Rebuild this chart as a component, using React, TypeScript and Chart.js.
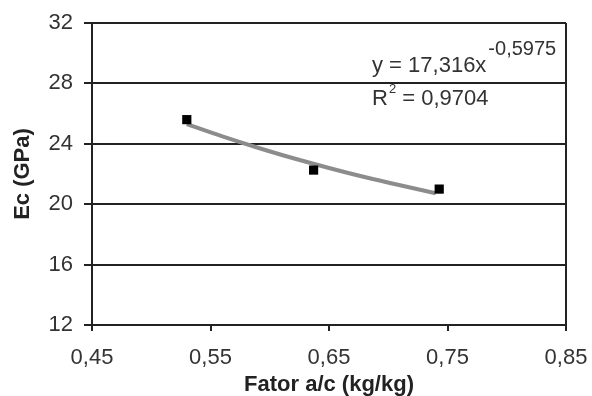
import React, { useEffect, useRef } from "react";
import { Chart, registerables } from "chart.js";

Chart.register(...registerables);

// Measured points: Fator a/c (kg/kg) vs Ec (GPa)
const fatorAC = [0.53, 0.637, 0.743];
const ecGPa = [25.6, 22.26, 21.0];

// Power trendline y = 17,316x^-0,5975
const trendX = [0.53, 0.56, 0.59, 0.62, 0.65, 0.68, 0.71, 0.74];
const trendY = [25.3, 24.49, 23.74, 23.04, 22.4, 21.8, 21.25, 20.73];

const xTicks = [0.45, 0.55, 0.65, 0.75, 0.85];
const yTicks = [12, 16, 20, 24, 28, 32];

const equationMain = "y = 17,316x";
const equationExp = "-0,5975";
const r2Base = "R";
const r2Sup = "2";
const r2Rest = " = 0,9704";

const xTitle = "Fator a/c (kg/kg)";
const yTitle = "Ec (GPa)";

const FONT = "'Liberation Sans', Arial, sans-serif";

const equationPlugin = {
  id: "equationText",
  afterDraw(chart: any) {
    const ctx = chart.ctx;
    ctx.save();
    ctx.fillStyle = "#333";
    ctx.textAlign = "left";
    ctx.textBaseline = "alphabetic";
    ctx.font = `22px ${FONT}`;
    const x0 = 372;
    ctx.fillText(equationMain, x0, 72);
    const w = ctx.measureText(equationMain).width;
    ctx.font = `20px ${FONT}`;
    ctx.fillText(equationExp, x0 + w + 2, 55);
    ctx.font = `22px ${FONT}`;
    ctx.fillText(r2Base, x0, 105);
    const rw = ctx.measureText(r2Base).width;
    ctx.font = `13px ${FONT}`;
    ctx.fillText(r2Sup, x0 + rw + 1, 93);
    const sw = ctx.measureText(r2Sup).width;
    ctx.font = `22px ${FONT}`;
    ctx.fillText(r2Rest, x0 + rw + sw + 1, 105);
    ctx.restore();
  },
};

export default function App() {
  const canvasRef = useRef<HTMLCanvasElement | null>(null);

  useEffect(() => {
    document.body.style.margin = "0";
    document.body.style.background = "#fff";
    const canvas = canvasRef.current;
    if (!canvas) return;
    const chart = new Chart(canvas, {
      type: "scatter",
      data: {
        datasets: [
          {
            label: "Ec",
            data: fatorAC.map((x, i) => ({ x, y: ecGPa[i] })),
            backgroundColor: "#000",
            borderColor: "#000",
            pointStyle: "rect",
            pointRadius: 6.5,
            borderWidth: 0,
            order: 0,
          },
          {
            label: "Tendência",
            type: "line",
            data: trendX.map((x, i) => ({ x, y: trendY[i] })),
            borderColor: "#8c8c8c",
            borderWidth: 4,
            pointRadius: 0,
            tension: 0.4,
            fill: false,
            order: 1,
          } as any,
        ],
      },
      options: {
        responsive: false,
        devicePixelRatio: 1,
        animation: false,
        layout: { padding: { top: 23, right: 26, left: 0, bottom: 0 } },
        plugins: {
          legend: { display: false },
          tooltip: { enabled: false },
          title: { display: false },
        },
        scales: {
          x: {
            type: "linear",
            min: 0.45,
            max: 0.85,
            afterBuildTicks: (scale: any) => {
              scale.ticks = xTicks.map((v) => ({ value: v }));
            },
            afterFit: (scale: any) => {
              scale.height = 71;
              scale.paddingRight = 0;
              scale.paddingLeft = 0;
            },
            ticks: {
              color: "#333",
              font: { family: FONT, size: 22 },
              padding: 14,
              maxRotation: 0,
              callback: (v: any) => Number(v).toFixed(2).replace(".", ","),
            },
            grid: {
              drawOnChartArea: true,
              color: (c: any) =>
                c.tick && Math.abs(c.tick.value - 0.85) < 1e-6 ? "#222" : "rgba(0,0,0,0)",
              lineWidth: 2,
              tickColor: "#222",
              tickLength: 6,
              tickWidth: 2,
            },
            border: { display: true, color: "#222", width: 2 },
            title: {
              display: true,
              text: xTitle,
              color: "#222",
              font: { family: FONT, size: 22, weight: "bold", lineHeight: 1 },
              padding: { top: 0, bottom: 0 },
            },
          },
          y: {
            type: "linear",
            min: 12,
            max: 32,
            afterBuildTicks: (scale: any) => {
              scale.ticks = yTicks.map((v) => ({ value: v }));
            },
            afterFit: (scale: any) => {
              scale.width = 92;
              scale.paddingTop = 0;
              scale.paddingBottom = 0;
            },
            ticks: {
              color: "#333",
              font: { family: FONT, size: 22 },
              padding: 11,
              callback: (v: any) => String(v),
            },
            grid: {
              color: "#222",
              lineWidth: 2,
              tickColor: "#222",
              tickLength: 8,
              tickWidth: 2,
            },
            border: { display: true, color: "#222", width: 2 },
            title: {
              display: true,
              text: yTitle,
              color: "#222",
              font: { family: FONT, size: 22, weight: "bold", lineHeight: 1 },
              padding: { top: 12, bottom: 0 },
            },
          },
        },
      } as any,
      plugins: [equationPlugin],
    });
    return () => chart.destroy();
  }, []);

  return (
    <div style={{ width: 592, height: 396, background: "#fff" }}>
      <canvas ref={canvasRef} width={592} height={396} style={{ display: "block" }} />
    </div>
  );
}
